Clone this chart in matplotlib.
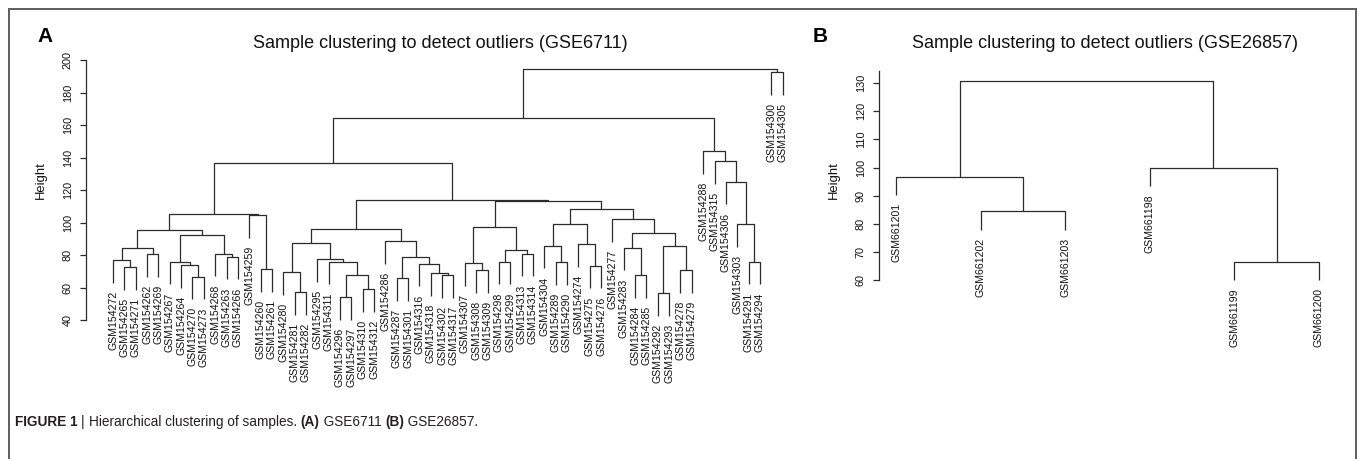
"""Hierarchical clustering of samples (GSE6711 / GSE26857)"""

import matplotlib
matplotlib.use('Agg')
import matplotlib.pyplot as plt
from matplotlib.lines import Line2D
from matplotlib import transforms

plt.rcParams['font.family'] = ['Liberation Sans', 'DejaVu Sans']

W, H = 1357, 459
LINE_COLOR = '#2b2b2b'

# Panel A: GSE6711, leaves in plotted order
labels_a = [
    'GSM154272', 'GSM154265', 'GSM154271', 'GSM154262', 'GSM154269',
    'GSM154267', 'GSM154264', 'GSM154270', 'GSM154273', 'GSM154268',
    'GSM154263', 'GSM154266', 'GSM154259', 'GSM154260', 'GSM154261',
    'GSM154280', 'GSM154281', 'GSM154282', 'GSM154295', 'GSM154311',
    'GSM154296', 'GSM154297', 'GSM154310', 'GSM154312', 'GSM154286',
    'GSM154287', 'GSM154301', 'GSM154316', 'GSM154318', 'GSM154302',
    'GSM154317', 'GSM154307', 'GSM154308', 'GSM154309', 'GSM154298',
    'GSM154299', 'GSM154313', 'GSM154314', 'GSM154304', 'GSM154289',
    'GSM154290', 'GSM154274', 'GSM154275', 'GSM154276', 'GSM154277',
    'GSM154283', 'GSM154284', 'GSM154285', 'GSM154292', 'GSM154293',
    'GSM154278', 'GSM154279', 'GSM154288', 'GSM154315', 'GSM154306',
    'GSM154303', 'GSM154291', 'GSM154294', 'GSM154300', 'GSM154305',
]
# R-style merge table: negative = leaf position, positive = earlier merge row
merge_a = [
    (-2, -3), (-1, 1), (-4, -5), (2, 3), (-8, -9), (-7, 5), (-6, 6),
    (-11, -12), (-10, 8), (7, 9), (4, 10), (-14, -15), (-13, 12), (11, 13),
    (-17, -18), (-16, 15), (-21, -22), (-23, -24), (17, 18), (-20, 19),
    (-19, 20), (16, 21), (-26, -27), (-30, -31), (-29, 24), (-28, 25),
    (23, 26), (-25, 27), (22, 28), (-33, -34), (-32, 30), (-35, -36),
    (-37, -38), (32, 33), (31, 34), (-40, -41), (-39, 36), (-43, -44),
    (-42, 38), (37, 39), (-47, -48), (-46, 41), (-49, -50), (-51, -52),
    (43, 44), (42, 45), (-45, 46), (40, 47), (35, 48), (29, 49), (14, 50),
    (-57, -58), (-56, 52), (-55, 53), (-54, 54), (-53, 55), (51, 56),
    (-59, -60), (57, 58),
]
height_a = [
    72.4, 76.9, 80.6, 84.1, 66.7, 74.0, 75.9,
    79.0, 80.8, 92.5, 95.4, 71.2, 104.6, 105.2,
    57.0, 69.4, 54.3, 58.9, 67.7, 75.9,
    77.4, 87.6, 65.7, 67.7, 68.7, 74.7,
    79.0, 88.6, 96.2, 70.8, 74.9, 75.9,
    80.8, 82.8, 97.4, 75.5, 85.7, 73.4,
    86.6, 99.1, 67.7, 84.5, 56.4, 70.8,
    85.5, 93.7, 102.0, 108.1, 113.1, 113.6, 136.4,
    75.9, 99.1, 125.1, 137.8, 143.8, 164.5,
    192.6, 194.3,
]
yticks_a = [40, 60, 80, 100, 120, 140, 160, 180, 200]

# Panel B: GSE26857
labels_b = ['GSM661201', 'GSM661202', 'GSM661203',
            'GSM661198', 'GSM661199', 'GSM661200']
merge_b = [(-2, -3), (-1, 1), (-5, -6), (-4, 3), (2, 4)]
height_b = [84.4, 96.8, 66.3, 99.8, 130.8]
yticks_b = [60, 70, 80, 90, 100, 110, 120, 130]


def px_axes(fig, x0, y0, x1, y1):
    """Add axes from pixel box (top-left origin)."""
    return fig.add_axes([x0 / W, 1 - y1 / H, (x1 - x0) / W, (y1 - y0) / H])


def draw_dendrogram(ax, fig, labels, merge, height, hang=0.1):
    drop = hang * (max(height) - min(height))
    label_tr = transforms.offset_copy(ax.transData, fig=fig, y=-8, units='dots')
    xpos = {-(i + 1): i + 1 for i in range(len(labels))}
    ytop = {}
    for k, (a, b) in enumerate(merge, start=1):
        h = height[k - 1]
        ya = ytop[a] if a > 0 else h - drop
        yb = ytop[b] if b > 0 else h - drop
        xa, xb = xpos[a], xpos[b]
        ax.plot([xa, xa, xb, xb], [ya, h, h, yb], color=LINE_COLOR,
                lw=0.9, clip_on=False, solid_capstyle='butt')
        for c, yc in ((a, ya), (b, yb)):
            if c < 0:
                ax.text(xpos[c], yc, labels[-c - 1], rotation=90, ha='center',
                        va='top', fontsize=7.6, color='#111111',
                        transform=label_tr, clip_on=False)
        xpos[k] = (xa + xb) / 2
        ytop[k] = h


def style_axis(ax, yticks, top):
    for side in ('top', 'right', 'bottom'):
        ax.spines[side].set_visible(False)
    ax.spines['left'].set_bounds(yticks[0], top)
    ax.spines['left'].set_color(LINE_COLOR)
    ax.spines['left'].set_linewidth(0.9)
    ax.set_xticks([])
    ax.set_yticks(yticks)
    ax.set_yticklabels([str(t) for t in yticks], rotation=90, va='center')
    ax.tick_params(axis='y', direction='out', length=4.4, width=0.9,
                   color=LINE_COLOR, labelsize=7.8, pad=5, labelcolor='#111111')
    ax.patch.set_visible(False)


fig = plt.figure(figsize=(W / 100, H / 100), dpi=100)

# Panel A
ax_a = px_axes(fig, 86, 59.2, 790, 329.75)
ax_a.set_xlim(-1.379, 60.648)
ax_a.set_ylim(34, 200.5)
draw_dendrogram(ax_a, fig, labels_a, merge_a, height_a)
style_axis(ax_a, yticks_a, 200)

# Panel B
ax_b = px_axes(fig, 879, 69.25, 1340, 291.2)
ax_b.set_xlim(0.7953, 6.251)
ax_b.set_ylim(56, 135)
draw_dendrogram(ax_b, fig, labels_b, merge_b, height_b)
style_axis(ax_b, yticks_b, 134.5)

# Titles, panel letters, axis labels
fig.text(440 / W, 1 - 43 / H, 'Sample clustering to detect outliers (GSE6711)',
         ha='center', va='center', fontsize=13, color='#111111')
fig.text(1105 / W, 1 - 43 / H, 'Sample clustering to detect outliers (GSE26857)',
         ha='center', va='center', fontsize=13, color='#111111')
fig.text(45 / W, 1 - 36 / H, 'A', ha='center', va='center', fontsize=15,
         fontweight='bold')
fig.text(820 / W, 1 - 36 / H, 'B', ha='center', va='center', fontsize=15,
         fontweight='bold')
fig.text(41 / W, 1 - 180 / H, 'Height', rotation=90, ha='center', va='center',
         fontsize=9.4, color='#111111')
fig.text(834 / W, 1 - 180 / H, 'Height', rotation=90, ha='center', va='center',
         fontsize=9.4, color='#111111')

# Outer frame (open at the bottom)
frame_kw = dict(transform=None, color='#5e5e5e', lw=1.4)
fig.add_artist(Line2D([8.5, 8.5], [0, H - 8.5], **frame_kw))
fig.add_artist(Line2D([8.5, W - 1.5], [H - 8.5, H - 8.5], **frame_kw))
fig.add_artist(Line2D([W - 1.5, W - 1.5], [0, H - 8.5], **frame_kw))

# Caption with mixed weights
caption = [
    ('FIGURE 1 ', 'bold'), ('| ', 'normal'),
    ('Hierarchical clustering of samples. ', 'normal'),
    ('(A)', 'bold'), (' GSE6711 ', 'normal'),
    ('(B)', 'bold'), (' GSE26857.', 'normal'),
]
renderer = fig.canvas.get_renderer()
x = 15
for piece, weight in caption:
    t = fig.text(x / W, 1 - 422 / H, piece, ha='left', va='center',
                 fontsize=9.8, fontweight=weight, color='#231f20',
                 family=['Liberation Sans Narrow', 'Liberation Sans'])
    x += t.get_window_extent(renderer).width

fig.savefig('out.png', dpi=100)
plt.close(fig)
